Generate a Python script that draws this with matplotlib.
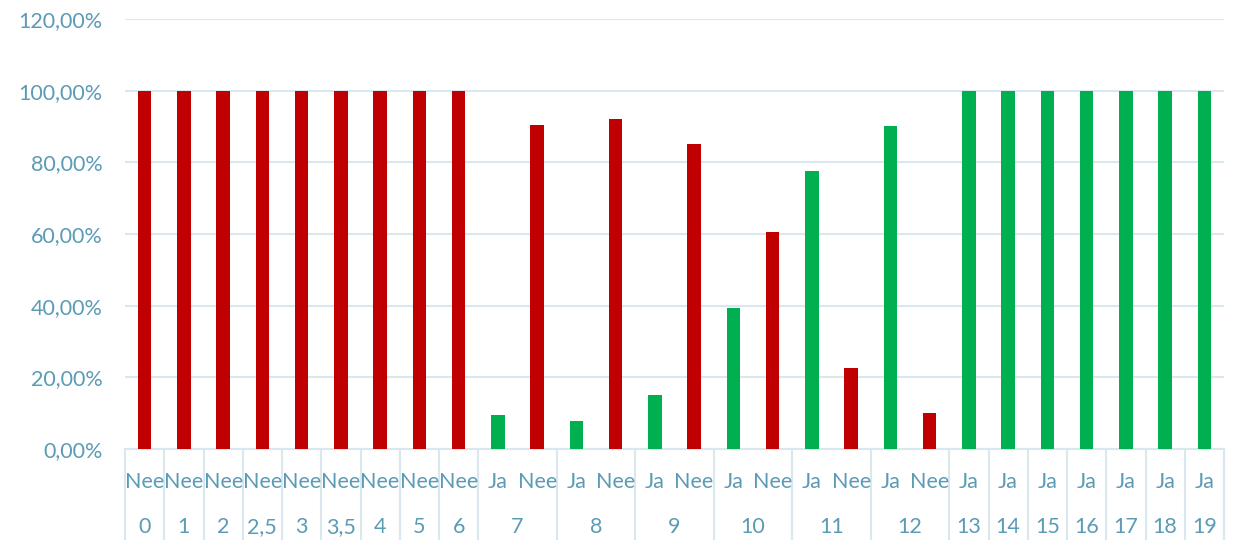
import matplotlib.pyplot as plt
from matplotlib.transforms import blended_transform_factory
from matplotlib.ticker import FuncFormatter

# categories (outer level), inner answer labels and values in %
groups = ['0', '1', '2', '2,5', '3', '3,5', '4', '5', '6',
          '7', '7', '8', '8', '9', '9', '10', '10', '11', '11', '12', '12',
          '13', '14', '15', '16', '17', '18', '19']
answers = ['Nee'] * 9 + ['Ja', 'Nee'] * 6 + ['Ja'] * 7
values = [100, 100, 100, 100, 100, 100, 100, 100, 100,
          9.5, 90.5, 7.9, 92.1, 15.0, 85.0, 39.4, 60.6, 77.5, 22.5, 90.0, 10.0,
          100, 100, 100, 100, 100, 100, 100]

red = '#C00000'
green = '#00B050'
txt = '#5B9BB5'
gridc = '#D9E7EF'
fs = 15.5

plt.rcParams['font.family'] = ['Lato', 'DejaVu Sans']

fig = plt.figure(figsize=(12.34, 5.4), dpi=100)
ax = fig.add_axes([125 / 1234, 91 / 540, 1099 / 1234, 430 / 540])

x = list(range(len(values)))
cols = [green if a == 'Ja' else red for a in answers]
ax.bar(x, [v / 100 for v in values], width=0.34, color=cols, zorder=3)

ax.set_xlim(-0.5, len(values) - 0.5)
ax.set_ylim(0, 1.2)
ax.set_yticks([0, 0.2, 0.4, 0.6, 0.8, 1.0, 1.2])
ax.yaxis.set_major_formatter(FuncFormatter(lambda v, p: f'{v * 100:.2f}%'.replace('.', ',')))
ax.tick_params(axis='y', length=0, pad=16, labelsize=fs, labelcolor=txt)
ax.set_xticks([])
ax.grid(axis='y', color=gridc, lw=1.5, zorder=0)
for s in ax.spines.values():
    s.set_visible(False)

# multi-level category axis
tr = blended_transform_factory(ax.transData, fig.transFigure)
top = 91 / 540
ax.plot([-0.5, len(values) - 0.5], [top, top], transform=tr, color=gridc, lw=1.5, clip_on=False)

# group spans
spans = []
for i, g in enumerate(groups):
    if spans and spans[-1][0] == g:
        spans[-1][2] = i
    else:
        spans.append([g, i, i])

for g, a, b in spans:
    ax.plot([a - 0.5, a - 0.5], [top, 0], transform=tr, color=gridc, lw=1.5, clip_on=False)
    ax.text((a + b) / 2, 13 / 540, g, transform=tr, ha='center', va='center',
            fontsize=fs, color=txt)
ax.plot([len(values) - 0.5] * 2, [top, 0], transform=tr, color=gridc, lw=1.5, clip_on=False)

for i, a in enumerate(answers):
    ax.text(i, 58 / 540, a, transform=tr, ha='center', va='center', fontsize=fs, color=txt)

fig.savefig('out.png', dpi=100)
